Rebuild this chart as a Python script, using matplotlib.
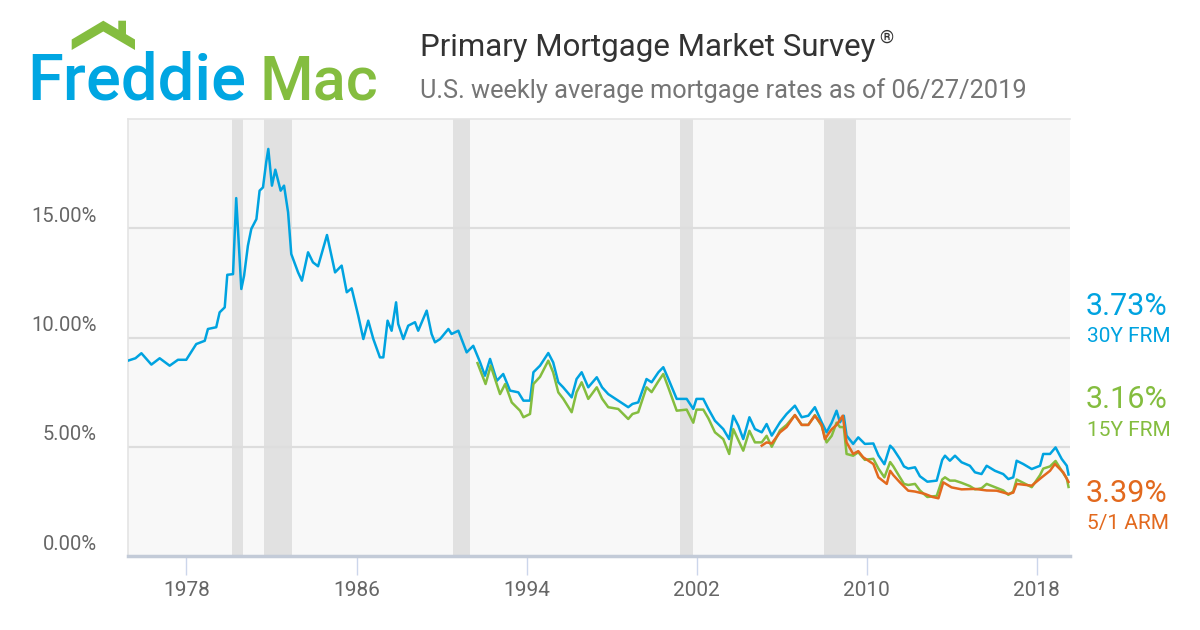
import matplotlib
matplotlib.use('Agg')
import matplotlib.pyplot as plt
import matplotlib.patches as patches

plt.rcParams['font.family'] = ['Roboto', 'DejaVu Sans']

# weekly rates (decimal year, percent)
frm30_t = [1975.25, 1975.6, 1975.88, 1976.35, 1976.74, 1977.21, 1977.6, 1977.99, 1978.46, 1978.86,
           1979.01, 1979.4, 1979.56, 1979.8, 1979.92, 1980.19, 1980.34, 1980.42, 1980.58, 1980.71,
           1980.89, 1981.05, 1981.29, 1981.44, 1981.6, 1981.75, 1981.85, 1982.02, 1982.18, 1982.43,
           1982.59, 1982.78, 1982.93, 1983.25, 1983.43, 1983.72, 1983.95, 1984.19, 1984.42, 1984.61,
           1984.99, 1985.3, 1985.54, 1985.77, 1986.08, 1986.32, 1986.55, 1986.79, 1987.1, 1987.26,
           1987.46, 1987.65, 1987.86, 1987.96, 1988.2, 1988.43, 1988.75, 1988.9, 1989.3, 1989.53,
           1989.69, 1989.93, 1990.32, 1990.47, 1990.79, 1991.18, 1991.49, 1991.81, 1992.04, 1992.28,
           1992.6, 1992.9, 1993.22, 1993.61, 1993.85, 1994.16, 1994.32, 1994.63, 1995.02, 1995.25,
           1995.49, 1995.72, 1996.12, 1996.35, 1996.59, 1996.9, 1997.3, 1997.55, 1997.84, 1998.31,
           1998.78, 1998.98, 1999.25, 1999.64, 1999.88, 2000.2, 2000.43, 2000.67, 2001.06, 2001.53,
           2001.84, 2001.99, 2002.31, 2002.55, 2002.86, 2003.25, 2003.53, 2003.72, 2003.96, 2004.19,
           2004.48, 2004.74, 2005.06, 2005.29, 2005.53, 2005.92, 2006.23, 2006.62, 2006.94, 2007.25,
           2007.56, 2007.88, 2008.11, 2008.35, 2008.58, 2008.74, 2008.92, 2009.05, 2009.36, 2009.6,
           2009.91, 2010.31, 2010.55, 2010.83, 2011.1, 2011.25, 2011.56, 2011.75, 2011.95, 2012.27,
           2012.5, 2012.85, 2013.29, 2013.55, 2013.68, 2013.91, 2014.15, 2014.46, 2014.85, 2015.09,
           2015.4, 2015.64, 2016.03, 2016.42, 2016.66, 2016.89, 2017.05, 2017.36, 2017.76, 2018.15,
           2018.3, 2018.62, 2018.88, 2019.17, 2019.41, 2019.49]
frm30_r = [8.94, 9.05, 9.28, 8.76, 9.05, 8.71, 8.98, 8.98, 9.70, 9.85,
           10.39, 10.47, 11.15, 11.38, 12.87, 12.90, 16.38, 14.97, 12.22, 12.83,
           14.20, 14.97, 15.42, 16.72, 16.87, 18.02, 18.63, 16.95, 17.68, 16.72,
           16.95, 15.73, 13.82, 12.98, 12.60, 13.90, 13.44, 13.26, 14.05, 14.69,
           12.98, 13.29, 12.07, 12.25, 11.00, 9.93, 10.77, 9.93, 9.09, 9.09,
           10.77, 10.31, 11.61, 10.62, 9.93, 10.54, 10.70, 10.31, 11.23, 10.16,
           9.78, 9.93, 10.39, 10.16, 10.31, 9.32, 9.62, 8.87, 8.25, 9.02,
           8.02, 8.33, 7.57, 7.49, 7.11, 7.11, 8.41, 8.71, 9.29, 8.86,
           7.95, 7.72, 7.26, 8.10, 8.41, 7.72, 8.18, 7.72, 7.41, 7.11,
           6.81, 6.96, 7.03, 8.10, 7.95, 8.41, 8.64, 8.10, 7.19, 7.19,
           6.73, 7.19, 7.19, 6.73, 6.19, 5.81, 5.35, 6.42, 5.96, 5.35,
           6.35, 5.81, 5.66, 6.04, 5.51, 6.12, 6.50, 6.88, 6.35, 6.42,
           6.81, 6.12, 5.66, 6.10, 6.65, 6.12, 6.42, 5.51, 5.13, 5.43,
           5.13, 5.15, 4.60, 4.20, 5.05, 4.90, 4.44, 4.10, 4.00, 4.06,
           3.65, 3.40, 3.45, 4.40, 4.59, 4.36, 4.59, 4.29, 4.13, 3.83,
           3.75, 4.13, 3.90, 3.75, 3.52, 3.60, 4.36, 4.21, 3.98, 4.13,
           4.67, 4.67, 4.97, 4.44, 4.13, 3.73]

frm15_t = [1991.69, 1992.07, 1992.31, 1992.75, 1992.99, 1993.3, 1993.69, 1993.85, 1994.16, 1994.32,
           1994.63, 1995.02, 1995.25, 1995.49, 1995.72, 1996.12, 1996.35, 1996.59, 1996.9, 1997.3,
           1997.55, 1997.84, 1998.31, 1998.78, 1998.98, 1999.25, 1999.64, 1999.88, 2000.2, 2000.43,
           2000.67, 2001.06, 2001.53, 2001.84, 2001.99, 2002.31, 2002.55, 2002.86, 2003.25, 2003.53,
           2003.72, 2003.96, 2004.19, 2004.48, 2004.74, 2005.06, 2005.29, 2005.53, 2005.92, 2006.23,
           2006.62, 2006.94, 2007.25, 2007.56, 2007.88, 2008.11, 2008.35, 2008.58, 2008.74, 2008.92,
           2009.05, 2009.36, 2009.6, 2009.91, 2010.31, 2010.55, 2010.83, 2011.1, 2011.25, 2011.56,
           2011.75, 2011.95, 2012.27, 2012.5, 2012.85, 2013.29, 2013.55, 2013.68, 2013.91, 2014.15,
           2014.46, 2014.85, 2015.09, 2015.4, 2015.64, 2016.03, 2016.42, 2016.66, 2016.89, 2017.05,
           2017.36, 2017.76, 2018.15, 2018.3, 2018.62, 2018.88, 2019.17, 2019.41, 2019.49]
frm15_r = [8.83, 7.87, 8.71, 7.41, 7.87, 7.03, 6.65, 6.35, 6.50, 7.87,
           8.20, 8.94, 8.40, 7.49, 7.20, 6.58, 7.50, 7.95, 7.19, 7.72,
           7.20, 6.81, 6.73, 6.27, 6.50, 6.58, 7.72, 7.50, 8.00, 8.33,
           7.70, 6.65, 6.70, 6.10, 6.70, 6.70, 6.30, 5.66, 5.35, 4.67,
           5.81, 5.30, 4.82, 5.73, 5.20, 5.20, 5.50, 5.00, 5.75, 6.00,
           6.45, 6.00, 6.00, 6.45, 5.95, 5.20, 5.50, 6.10, 5.90, 5.90,
           4.67, 4.59, 4.75, 4.40, 4.45, 4.00, 3.60, 4.30, 4.10, 3.60,
           3.30, 3.25, 3.30, 3.00, 2.70, 2.75, 3.50, 3.60, 3.45, 3.45,
           3.35, 3.20, 3.05, 3.10, 3.30, 3.15, 3.00, 2.80, 2.95, 3.50,
           3.35, 3.15, 3.70, 4.00, 4.10, 4.35, 3.90, 3.55, 3.16]

arm51_t = [2005.06, 2005.29, 2005.53, 2005.92, 2006.23, 2006.62, 2006.94, 2007.25, 2007.56, 2007.88,
           2008.03, 2008.2, 2008.35, 2008.58, 2008.87, 2009.05, 2009.36, 2009.6, 2009.83, 2010.31,
           2010.55, 2010.94, 2011.1, 2011.25, 2011.56, 2011.95, 2012.27, 2012.74, 2013.1, 2013.37,
           2013.6, 2013.99, 2014.46, 2015.09, 2015.64, 2016.11, 2016.66, 2016.89, 2017.05, 2017.76,
           2018.23, 2018.62, 2018.85, 2019.24, 2019.49]
arm51_r = [5.05, 5.20, 5.15, 5.66, 5.90, 6.45, 6.00, 6.00, 6.42, 6.00,
           5.35, 5.60, 5.80, 6.00, 6.42, 5.20, 4.67, 4.80, 4.52, 4.21,
           3.60, 3.30, 3.90, 3.70, 3.37, 2.99, 2.95, 2.84, 2.70, 2.64,
           3.37, 3.14, 3.05, 3.07, 3.00, 2.99, 2.84, 2.90, 3.30, 3.22,
           3.60, 3.90, 4.21, 3.83, 3.39]

rec_start = [1980.14, 1981.65, 1990.54, 2001.21, 2008.0]
rec_end = [1980.64, 1982.95, 1991.35, 2001.84, 2009.48]

year_ticks = [1978, 1986, 1994, 2002, 2010, 2018]
rate_ticks = [0, 5, 10, 15]

series_names = ['30Y FRM', '15Y FRM', '5/1 ARM']
latest = ['3.73%', '3.16%', '3.39%']

blue = '#00a3e0'
green = '#84bd3f'
orange = '#e2691e'

W, H = 1200, 630
fig = plt.figure(figsize=(12, 6.3), dpi=100)
fig.patch.set_facecolor('white')

ax = fig.add_axes([128 / W, 1 - 556 / H, 942 / W, (556 - 119) / H])
ax.set_facecolor('#f8f8f8')

for a, b in zip(rec_start, rec_end):
    ax.axvspan(a, b, color='#e1e1e1', lw=0, zorder=0)
for v in rate_ticks[1:]:
    ax.axhline(v, color='#dddddd', lw=1.6, zorder=1)

ax.plot(frm30_t, frm30_r, color=blue, lw=1.8, zorder=3)
ax.plot(frm15_t, frm15_r, color=green, lw=1.8, zorder=4)
ax.plot(arm51_t, arm51_r, color=orange, lw=1.8, zorder=5)

ax.set_xlim(1975.25, 2019.56)
ax.set_ylim(0, 20)

for s in ['top', 'left']:
    ax.spines[s].set_color('#e4e4e4')
    ax.spines[s].set_linewidth(1.2)
ax.spines['right'].set_visible(False)
ax.spines['bottom'].set_color('#c3cbd8')
ax.spines['bottom'].set_linewidth(2.5)

ax.set_xticks(year_ticks)
ax.set_xticklabels([str(y) for y in year_ticks])
ax.tick_params(axis='x', length=14, width=1, color='#ccd6eb', pad=4,
               labelsize=15, labelcolor='#666666')
ax.set_yticks([])

for v in rate_ticks:
    ax.annotate('%.2f%%' % v, xy=(-0.033, v), xycoords=('axes fraction', 'data'),
                xytext=(0, 8.5), textcoords='offset points', ha='right', va='center',
                fontsize=14.5, color='#666666')

# latest values on the right
colors = [blue, green, orange]
val_y = [306, 400, 493]
for name, val, c, y in zip(series_names, latest, colors, val_y):
    fig.text(1086 / W, 1 - y / H, val, color=c, fontsize=22, ha='left', va='center')
    fig.text(1087 / W, 1 - (y + 31) / H, name, color=c, fontsize=15, ha='left', va='center')

# titles
fig.text(420 / W, 1 - 48 / H, 'Primary Mortgage Market Survey', color='#333333',
         fontsize=22.5, ha='left', va='center')
fig.text(879 / W, 1 - 38 / H, '\u00ae', color='#333333', fontsize=13, ha='left', va='center')
fig.text(420 / W, 1 - 91 / H, 'U.S. weekly average mortgage rates as of 06/27/2019',
         color='#757575', fontsize=18.3, ha='left', va='center')

# logo
fig.text(27 / W, 1 - 100 / H, 'Freddie', color='#00a6e2', fontsize=47,
         family=['Roboto', 'DejaVu Sans'], fontweight='medium', ha='left', va='baseline')
fig.text(259 / W, 1 - 100 / H, 'Mac', color=green, fontsize=44,
         family=['Roboto', 'DejaVu Sans'], fontweight='medium', ha='left', va='baseline')
roof = [(71.7, 39.5), (103.3, 20.7), (135, 39.5), (135, 50), (103.3, 31.5), (71.7, 50)]
fig.patches.append(patches.Polygon([(x / W, 1 - y / H) for x, y in roof], closed=True,
                                   transform=fig.transFigure, color=green, lw=0))
chim = [(118.3, 20.7), (126, 20.7), (126, 36), (118.3, 31)]
fig.patches.append(patches.Polygon([(x / W, 1 - y / H) for x, y in chim], closed=True,
                                   transform=fig.transFigure, color=green, lw=0))

fig.savefig('out.png', dpi=100)
